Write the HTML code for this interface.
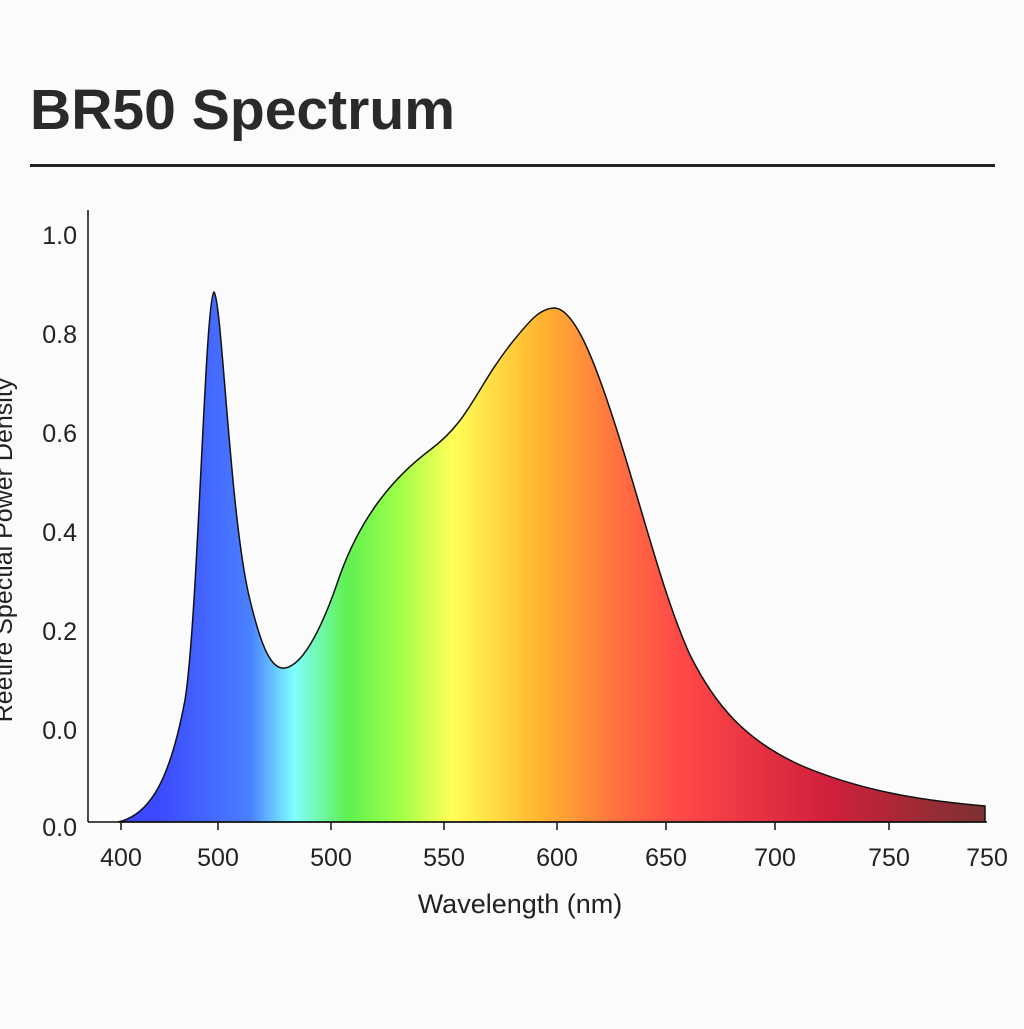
<!DOCTYPE html>
<html><head><style>
body{margin:0;background:#fbfbfb;width:1024px;height:1024px;overflow:hidden}
</style></head><body>
<svg width="1024" height="1024" xmlns="http://www.w3.org/2000/svg" font-family="Liberation Sans, DejaVu Sans, sans-serif">
<rect width="1024" height="1024" fill="#fbfbfb"/>
<text x="30" y="129" font-size="57" font-weight="bold" fill="#2a2a2a" textLength="425" lengthAdjust="spacingAndGlyphs">BR50 Spectrum</text>
<rect x="30" y="164" width="965" height="3" fill="#222"/>
<defs>
<linearGradient id="g" gradientUnits="userSpaceOnUse" x1="110" y1="0" x2="987" y2="0">
<stop offset="0" stop-color="#3a40ff"/>
<stop offset="0.06" stop-color="#3d4cff"/>
<stop offset="0.16" stop-color="#4a80ff"/>
<stop offset="0.21" stop-color="#80ffff"/>
<stop offset="0.27" stop-color="#5ef050"/>
<stop offset="0.33" stop-color="#a0ff48"/>
<stop offset="0.39" stop-color="#ffff58"/>
<stop offset="0.49" stop-color="#ffb530"/>
<stop offset="0.58" stop-color="#ff7040"/>
<stop offset="0.65" stop-color="#ff4848"/>
<stop offset="0.82" stop-color="#d0203c"/>
<stop offset="1" stop-color="#7a3232"/>
</linearGradient>
</defs>
<path d="M118,822 C150,815 170,780 185,700 C198,620 205,300 214,292 C222,300 230,520 250,600 C262,650 272,670 285,668 C305,665 325,620 340,575 C360,520 390,480 430,450 C470,420 475,390 510,345 C530,320 540,308 555,308 C575,310 595,360 620,440 C645,520 665,600 690,655 C715,705 745,740 800,765 C870,795 940,802 985,806 L985,822 Z" fill="url(#g)" stroke="#111" stroke-width="1.5"/>
<line x1="88" y1="210" x2="88" y2="822" stroke="#111" stroke-width="1.5"/>
<line x1="88" y1="822" x2="987" y2="822" stroke="#111" stroke-width="1.5"/>
<g font-size="25" fill="#222" text-anchor="end">
<text x="77" y="244">1.0</text><text x="77" y="343">0.8</text><text x="77" y="442">0.6</text>
<text x="77" y="541">0.4</text><text x="77" y="640">0.2</text><text x="77" y="739">0.0</text><text x="77" y="836">0.0</text>
</g>
<g stroke="#111" stroke-width="1.5">
<line x1="121" y1="822" x2="121" y2="830"/><line x1="218" y1="822" x2="218" y2="830"/><line x1="331" y1="822" x2="331" y2="830"/>
<line x1="444" y1="822" x2="444" y2="830"/><line x1="557" y1="822" x2="557" y2="830"/><line x1="666" y1="822" x2="666" y2="830"/>
<line x1="775" y1="822" x2="775" y2="830"/><line x1="889" y1="822" x2="889" y2="830"/>
</g>
<g font-size="25" fill="#222" text-anchor="middle">
<text x="121" y="866">400</text><text x="218" y="866">500</text><text x="331" y="866">500</text><text x="444" y="866">550</text>
<text x="557" y="866">600</text><text x="666" y="866">650</text><text x="775" y="866">700</text><text x="889" y="866">750</text><text x="987" y="866">750</text>
</g>
<text x="520" y="913" font-size="27" fill="#222" text-anchor="middle">Wavelength (nm)</text>
<text transform="translate(12,550) rotate(-90)" font-size="25" fill="#222" text-anchor="middle">Reetire Spectial Power Density</text>
</svg>
</body></html>
